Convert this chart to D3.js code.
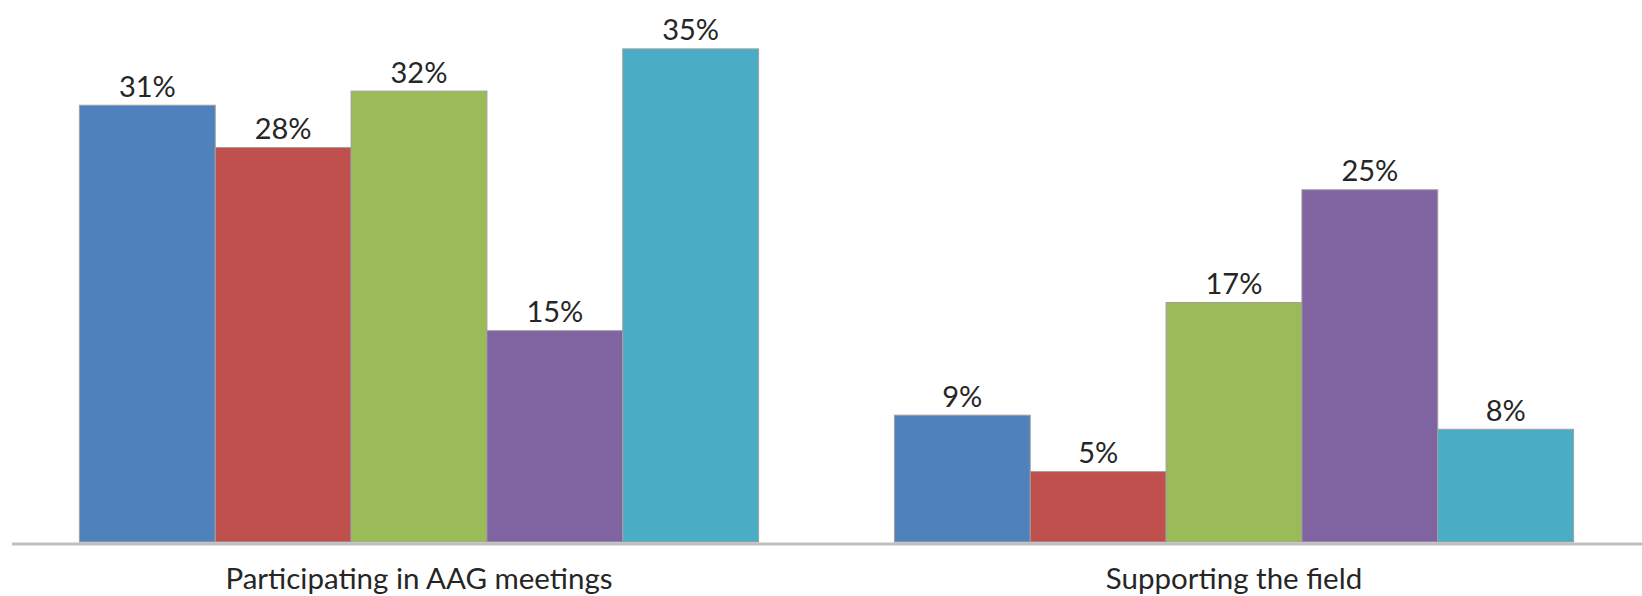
<!DOCTYPE html>
<html>
<head>
<meta charset="utf-8">
<script src="https://cdn.jsdelivr.net/npm/d3@7"></script>
<style>
  html, body { margin: 0; padding: 0; background: #ffffff; }
  svg { display: block; }
  text { font-family: Lato, "Noto Sans", sans-serif; }
</style>
</head>
<body>
<svg id="chart" width="1642" height="596"></svg>
<script>
// Categories along the x axis
const categories = ["Participating in AAG meetings", "Supporting the field"];
// Five series per category (percent)
const seriesNames = ["s1", "s2", "s3", "s4", "s5"];
const seriesColors = ["#4F81BD", "#C0504D", "#9BBB59", "#8064A2", "#4BACC6"];
const participating = [31, 28, 32, 15, 35];
const supporting = [9, 5, 17, 25, 8];
const valuesByCategory = [participating, supporting];

const W = 1642, H = 596;
const margin = { left: 11.5, right: 0.5, baseline: 542 };

const svg = d3.select("#chart");

const x0 = d3.scaleBand()
  .domain(categories)
  .range([margin.left, W - margin.right])
  .paddingInner(0)
  .paddingOuter(0);

const x1 = d3.scaleBand()
  .domain(seriesNames)
  .range([0, x0.bandwidth()])
  .paddingInner(0)
  .paddingOuter(0.5);

const y = d3.scaleLinear()
  .domain([0, 38])
  .range([margin.baseline, margin.baseline - 38 * 14.09]);

const rows = categories.map((c, i) => ({
  category: c,
  values: seriesNames.map((s, j) => ({ series: s, color: seriesColors[j], value: valuesByCategory[i][j] }))
}));

const groups = svg.selectAll("g.group")
  .data(rows)
  .join("g")
  .attr("class", "group")
  .attr("transform", d => `translate(${x0(d.category)},0)`);

groups.selectAll("rect")
  .data(d => d.values)
  .join("rect")
  .attr("x", d => x1(d.series))
  .attr("y", d => y(d.value))
  .attr("width", x1.bandwidth())
  .attr("height", d => y(0) - y(d.value))
  .attr("fill", d => d.color)
  .attr("stroke", "#a0a0a0")
  .attr("stroke-width", 1);

groups.selectAll("text.value")
  .data(d => d.values)
  .join("text")
  .attr("class", "value")
  .attr("x", d => x1(d.series) + x1.bandwidth() / 2)
  .attr("y", d => y(d.value) - 8.5)
  .attr("text-anchor", "middle")
  .attr("font-size", 29)
  .attr("fill", "#262626")
  .text(d => d.value + "%");

// Category axis along the baseline
const axis = svg.append("g")
  .attr("transform", `translate(0,${margin.baseline + 1.5})`)
  .call(d3.axisBottom(x0).tickSize(0).tickPadding(25));

axis.select(".domain")
  .attr("stroke", "#bfbfbf")
  .attr("stroke-width", 3);

axis.selectAll(".tick text")
  .attr("font-family", "Lato, 'Noto Sans', sans-serif")
  .attr("font-size", 29.5)
  .attr("fill", "#262626");
</script>
</body>
</html>
